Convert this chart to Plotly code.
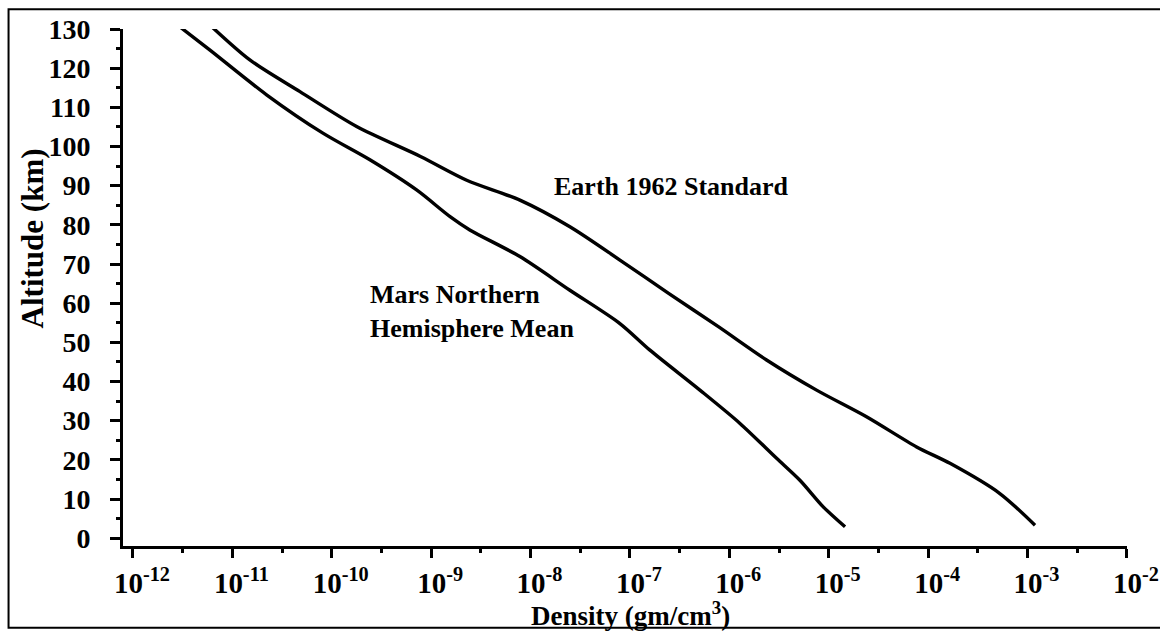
import plotly.graph_objects as go

# Altitude (km) and density (gm/cm^3) profiles
mars_alt = [130.6, 124.6, 113.2, 103.4, 96.6, 88.9, 82.1, 78.7, 71.9, 63.3,
            54.8, 48.0, 37.8, 29.3, 20.4, 14.8, 8.0, 2.9]
mars_rho = [2.95e-12, 5.96e-12, 2.21e-11, 8.15e-11, 2.42e-10, 7.14e-10, 1.55e-9,
            2.45e-9, 7.82e-9, 2.49e-8, 7.93e-8, 1.59e-7, 5.06e-7, 1.28e-6,
            2.99e-6, 5.13e-6, 8.81e-6, 1.46e-5]

earth_alt = [130.6, 122.1, 114.0, 105.1, 97.4, 91.4, 86.3, 79.5, 71.0, 62.5,
             54.0, 45.5, 37.8, 31.0, 23.3, 19.1, 11.4, 3.3]
earth_rho = [6.19e-12, 1.50e-11, 4.79e-11, 1.78e-10, 7.9e-10, 2.28e-9, 7.82e-9,
             2.49e-8, 7.93e-8, 2.45e-7, 7.76e-7, 2.37e-6, 7.55e-6, 2.40e-5,
             7.66e-5, 1.66e-4, 5.27e-4, 1.19e-3]

decade_exponents = [-12, -11, -10, -9, -8, -7, -6, -5, -4, -3, -2]
alt_ticks = [0, 10, 20, 30, 40, 50, 60, 70, 80, 90, 100, 110, 120, 130]

FONT = "Liberation Serif"
INK = "#000000"

fig = go.Figure()
for alt, rho in [(mars_alt, mars_rho), (earth_alt, earth_rho)]:
    fig.add_trace(go.Scatter(
        x=rho, y=alt, mode="lines",
        line=dict(color=INK, width=3.4, shape="spline", smoothing=0.8),
        showlegend=False, hoverinfo="skip",
    ))

fig.add_annotation(x=-7.785, y=89.7, xref="x", yref="y", xanchor="left",
                   yanchor="middle", showarrow=False, text="Earth 1962 Standard",
                   font=dict(family=FONT, size=26, color=INK, weight="bold"))
fig.add_annotation(x=-9.64, y=58.0, xref="x", yref="y", xanchor="left",
                   yanchor="middle", showarrow=False, align="left",
                   text="Mars Northern<br>Hemisphere Mean",
                   font=dict(family=FONT, size=26, color=INK, weight="bold"))

# Axis titles
fig.add_annotation(x=0.505, y=-0.132, xref="paper", yref="paper",
                   xanchor="center", yanchor="middle", showarrow=False,
                   text="Density (gm/cm<sup>3</sup>)",
                   font=dict(family=FONT, size=27, color=INK, weight="bold"))
fig.add_annotation(x=-0.0906, y=0.595, xref="paper", yref="paper",
                   xanchor="center", yanchor="middle", showarrow=False,
                   textangle=-90, text="Altitude (km)",
                   font=dict(family=FONT, size=31, color=INK, weight="bold"))

fig.update_xaxes(
    type="log", range=[-12.10, -1.999], automargin=False,
    tickvals=[10.0 ** e for e in decade_exponents],
    ticktext=["10<sup>%d</sup>" % e for e in decade_exponents],
    ticks="outside", ticklen=9, tickwidth=3, tickcolor=INK,
    ticklabelstandoff=0, ticklabelshift=9,
    minor=dict(tickvals=[10.0 ** (e + 0.5) for e in decade_exponents[:-1]],
               ticks="outside", ticklen=4, tickwidth=3, tickcolor=INK),
    showline=True, linewidth=3, linecolor=INK, showgrid=False, zeroline=False,
    tickfont=dict(family=FONT, size=29, color=INK, weight="bold"),
)
fig.update_yaxes(
    range=[-2, 130], tickvals=alt_ticks, automargin=False,
    ticks="outside", ticklen=10, tickwidth=3, tickcolor=INK,
    ticklabelstandoff=14,
    minor=dict(dtick=5, tick0=0, ticks="outside", ticklen=4, tickwidth=3,
               tickcolor=INK),
    showline=True, linewidth=3, linecolor=INK, showgrid=False, zeroline=False,
    tickfont=dict(family=FONT, size=28, color=INK, weight="bold"),
)

# Outer frame around the figure (open on the right)
fig.add_shape(type="path", xref="paper", yref="paper",
              path="M 1.06 1.038 L -0.114 1.038 L -0.114 -0.158 L 1.06 -0.158",
              line=dict(color=INK, width=2))

fig.update_layout(
    width=1160, height=634,
    margin=dict(l=123, r=33, t=29, b=88),
    paper_bgcolor="white", plot_bgcolor="white",
)

fig.write_html("out.html")
